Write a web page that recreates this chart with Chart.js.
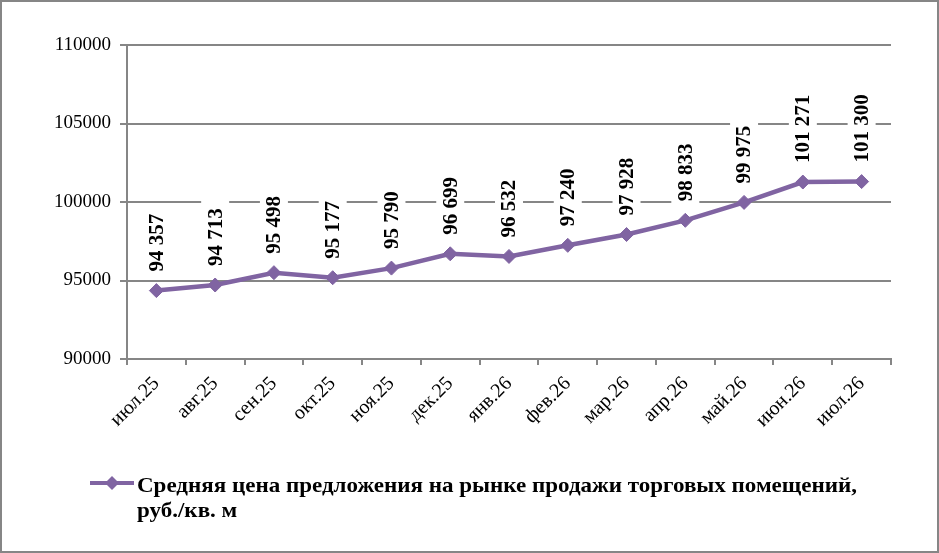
<!DOCTYPE html>
<html>
<head>
<meta charset="utf-8">
<script src="https://cdn.jsdelivr.net/npm/chart.js@4.4.1/dist/chart.umd.min.js"></script>
<style>
html,body{margin:0;padding:0;background:#fff;}
#wrap{width:939px;height:553px;position:relative;}
</style>
</head>
<body>
<div id="wrap"><canvas id="c" width="939" height="553"></canvas></div>
<script>
const categories = ['июл.25','авг.25','сен.25','окт.25','ноя.25','дек.25','янв.26','фев.26','мар.26','апр.26','май.26','июн.26','июл.26'];
const prices = [94357, 94713, 95498, 95177, 95790, 96699, 96532, 97240, 97928, 98833, 99975, 101271, 101300];
const yTicks = [90000, 95000, 100000, 105000, 110000];
const seriesName = ['Средняя цена предложения на рынке продажи торговых помещений,', 'руб./кв. м'];

const PURPLE = '#8064A2';
const GRID = '#868686';

function fmt(v){
  return String(v).replace(/\B(?=(\d{3})+(?!\d))/g, ' ');
}

const framePlugin = {
  id: 'frame',
  beforeDraw(chart){
    const ctx = chart.ctx;
    ctx.save();
    ctx.fillStyle = '#fff';
    ctx.fillRect(0,0,chart.width,chart.height);
    ctx.restore();
  },
  afterDraw(chart){
    const ctx = chart.ctx;
    ctx.save();
    ctx.strokeStyle = GRID;
    ctx.lineWidth = 2;
    ctx.strokeRect(1,1,chart.width-2,chart.height-2);
    ctx.restore();
  }
};

const labelPlugin = {
  id: 'vlabels',
  afterDatasetsDraw(chart){
    const ctx = chart.ctx;
    const meta = chart.getDatasetMeta(0);
    ctx.save();
    ctx.font = 'bold 21px "Liberation Serif", "Times New Roman", serif';
    meta.data.forEach((pt, i) => {
      const txt = fmt(prices[i]);
      const w = ctx.measureText(txt).width;
      ctx.save();
      ctx.translate(pt.x, pt.y - 19);
      ctx.rotate(-Math.PI/2);
      ctx.fillStyle = '#fff';
      ctx.fillRect(-8, -14, w + 16, 28);
      ctx.fillStyle = '#000';
      ctx.textAlign = 'left';
      ctx.textBaseline = 'middle';
      ctx.fillText(txt, 0, 1);
      ctx.restore();
    });
    ctx.restore();
  }
};

const legendPlugin = {
  id: 'customLegend',
  afterDraw(chart){
    const ctx = chart.ctx;
    ctx.save();
    const ly = 483;
    ctx.strokeStyle = PURPLE;
    ctx.lineWidth = 4;
    ctx.beginPath();
    ctx.moveTo(90, ly);
    ctx.lineTo(134, ly);
    ctx.stroke();
    ctx.fillStyle = PURPLE;
    ctx.beginPath();
    ctx.moveTo(112, ly-7);
    ctx.lineTo(119, ly);
    ctx.lineTo(112, ly+7);
    ctx.lineTo(105, ly);
    ctx.closePath();
    ctx.fill();
    ctx.fillStyle = '#000';
    ctx.font = 'bold 21px "Liberation Serif", "Times New Roman", serif';
    ctx.textAlign = 'left';
    ctx.textBaseline = 'alphabetic';
    const w0 = ctx.measureText(seriesName[0]).width;
    const sx = 720 / w0;
    ctx.translate(137, 0);
    ctx.scale(sx, 1);
    ctx.fillText(seriesName[0], 0, 492);
    ctx.fillText(seriesName[1], 0, 517);
    ctx.restore();
  }
};

new Chart(document.getElementById('c'), {
  type: 'line',
  data: {
    labels: categories,
    datasets: [{
      label: seriesName.join(' '),
      data: prices,
      borderColor: PURPLE,
      backgroundColor: PURPLE,
      borderWidth: 4.5,
      pointStyle: 'rectRot',
      pointRadius: 7,
      pointBorderWidth: 1,
      pointBackgroundColor: PURPLE,
      pointBorderColor: PURPLE,
      tension: 0,
      fill: false
    }]
  },
  options: {
    responsive: false,
    animation: false,
    devicePixelRatio: 1,
    layout: { padding: { top: 45, right: 48, left: 0, bottom: 0 } },
    plugins: {
      legend: { display: false },
      tooltip: { enabled: false }
    },
    scales: {
      x: {
        offset: true,
        grid: { display: true, drawOnChartArea: false, drawTicks: true, tickLength: 6, color: GRID, lineWidth: 2, offset: true },
        border: { display: true, color: GRID, width: 2 },
        ticks: {
          color: '#000',
          font: { family: '"Liberation Serif", "Times New Roman", serif', size: 20 },
          minRotation: 45, maxRotation: 45, padding: 7, autoSkip: false
        },
        afterFit(scale){ scale.height = 194; }
      },
      y: {
        min: 90000, max: 110000,
        afterBuildTicks(scale){ scale.ticks = yTicks.map(v => ({value: v})); },
        grid: { color: GRID, lineWidth: 2, drawTicks: true, tickLength: 7 },
        border: { display: true, color: GRID, width: 2 },
        ticks: {
          color: '#000',
          font: { family: '"Liberation Serif", "Times New Roman", serif', size: 19 },
          padding: 9,
          callback: v => String(v)
        },
        afterFit(scale){ scale.width = 127; }
      }
    }
  },
  plugins: [framePlugin, labelPlugin, legendPlugin]
});
</script>
</body>
</html>
